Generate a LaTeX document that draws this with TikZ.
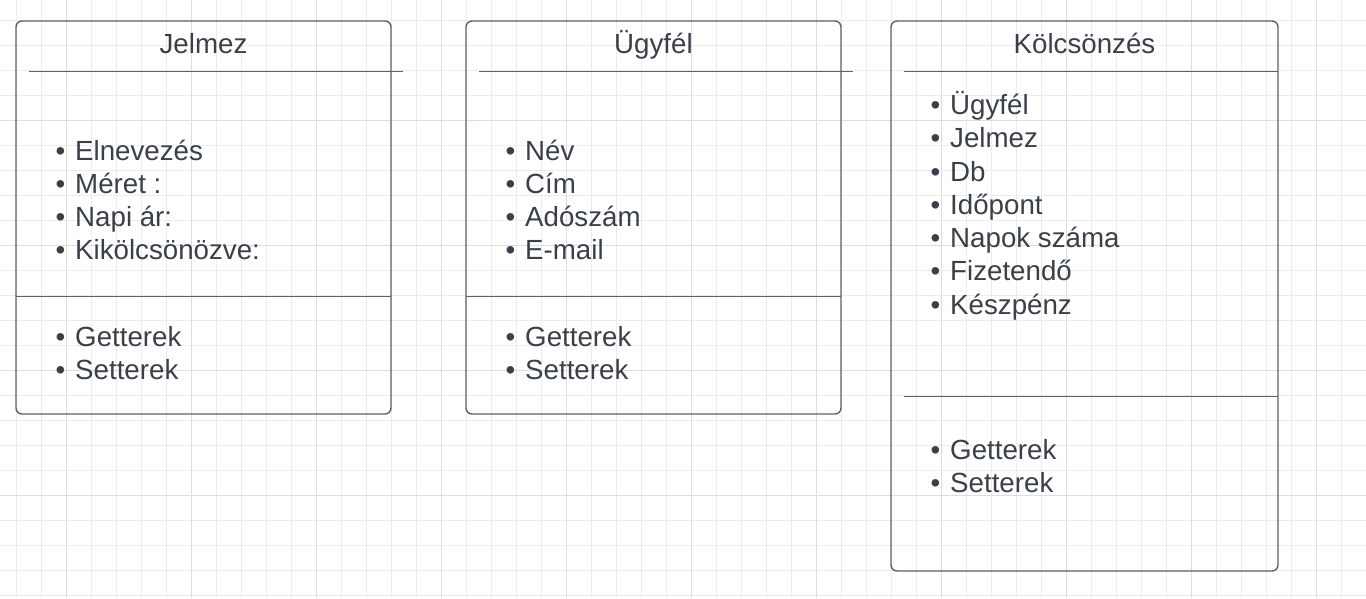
\documentclass[tikz,border=0pt]{standalone}
\usepackage{fontspec}
\setmainfont{Liberation Sans}
\definecolor{gridminor}{RGB}{236,236,236}
\definecolor{gridmajor}{RGB}{221,221,221}
\definecolor{boxline}{RGB}{92,98,108}
\definecolor{txt}{RGB}{58,64,74}
\begin{document}
\begin{tikzpicture}[x=1pt,y=-1pt,
  umlbox/.style={draw=boxline,line width=1.4pt,rounded corners=6pt},
  divider/.style={draw=boxline,line width=1pt},
  title/.style={text=txt,font=\fontsize{27.7}{33}\selectfont,anchor=base,inner sep=0pt},
  item/.style={text=txt,font=\fontsize{27.7}{33}\selectfont,anchor=base west,inner sep=0pt,
    label={[text=txt,font=\fontsize{27.7}{33}\selectfont,anchor=base,inner sep=0pt]base west:\hspace*{-29pt}•}}]
\useasboundingbox (0,0) rectangle (1366,598);
\fill[white] (0,0) rectangle (1366,598);
% grid
\foreach \i in {0,...,54} {\draw[gridminor,line width=1pt] ({16.7+25*\i},0) -- ({16.7+25*\i},598);}
\foreach \i in {0,...,24} {\draw[gridminor,line width=1pt] (0,{20+25*\i}) -- (1366,{20+25*\i});}
\foreach \i in {0,...,10} {\draw[gridmajor,line width=1pt] ({66.7+125*\i},0) -- ({66.7+125*\i},598);}
\foreach \i in {0,...,3} {\draw[gridmajor,line width=1pt] (0,{120+125*\i}) -- (1366,{120+125*\i});}
% box 1
\draw[umlbox] (16,21) rectangle (391,414);
\draw[divider] (29,71) -- (403,71);
\draw[divider] (16,296) -- (391,296);
\node[title] (t1) at (203.5,53) {Jelmez};
\node[item] (a1) at (75,160) {Elnevezés};
\node[item] (a2) at (75,193) {Méret :};
\node[item] (a3) at (75,226) {Napi ár:};
\node[item] (a4) at (75,259) {Kikölcsönözve:};
\node[item] (m1) at (75,346) {Getterek};
\node[item] (m2) at (75,379) {Setterek};
% box 2
\draw[umlbox] (466,21) rectangle (841,414);
\draw[divider] (479,71) -- (853,71);
\draw[divider] (466,296) -- (841,296);
\node[title] (t2) at (653.5,53) {Ügyfél};
\node[item] (b1) at (525,160) {Név};
\node[item] (b2) at (525,193) {Cím};
\node[item] (b3) at (525,226) {Adószám};
\node[item] (b4) at (525,259) {E-mail};
\node[item] (n1) at (525,346) {Getterek};
\node[item] (n2) at (525,379) {Setterek};
% box 3
\draw[umlbox] (891,21) rectangle (1278,571);
\draw[divider] (904,71) -- (1278,71);
\draw[divider] (904,396) -- (1278,396);
\node[title] (t3) at (1084.5,53) {Kölcsönzés};
\node[item] (c1) at (950,114) {Ügyfél};
\node[item] (c2) at (950,147) {Jelmez};
\node[item] (c3) at (950,181) {Db};
\node[item] (c4) at (950,214) {Időpont};
\node[item] (c5) at (950,247) {Napok száma};
\node[item] (c6) at (950,280) {Fizetendő};
\node[item] (c7) at (950,314) {Készpénz};
\node[item] (o1) at (950,459) {Getterek};
\node[item] (o2) at (950,492) {Setterek};
\end{tikzpicture}
\end{document}
